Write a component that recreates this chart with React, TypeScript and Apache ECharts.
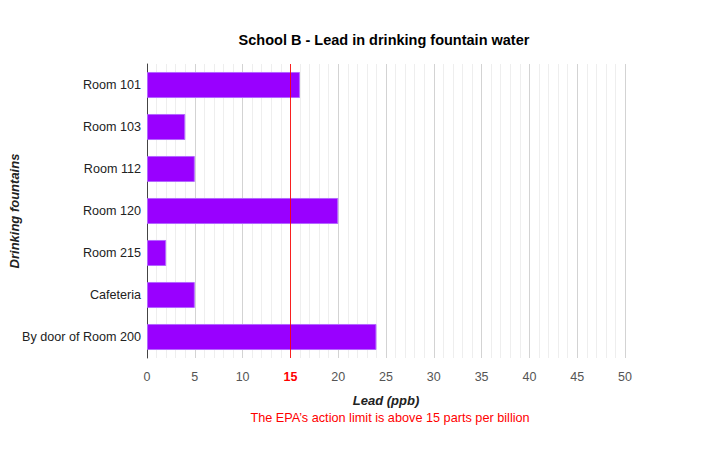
import React, { useEffect, useRef } from "react";
import * as echarts from "echarts";

const categories = ["Room 101", "Room 103", "Room 112", "Room 120", "Room 215", "Cafeteria", "By door of Room 200"];
const leadValues = [16, 4, 5, 20, 2, 5, 24];
const actionLimit = 15;
const xTicks = [0, 5, 10, 15, 20, 25, 30, 35, 40, 45, 50];

const FONT = "'Liberation Sans', Arial, sans-serif";

export default function App() {
  const ref = useRef<HTMLDivElement>(null);
  useEffect(() => {
    if (!ref.current) return;
    const chart = echarts.init(ref.current, null, { renderer: "svg" });
    chart.setOption({
      animation: false,
      backgroundColor: "#ffffff",
      textStyle: { fontFamily: FONT },
      title: {
        text: "School B - Lead in drinking fountain water",
        left: 379,
        top: 27,
        textAlign: "center",
        textStyle: { fontFamily: FONT, fontSize: 14.5, fontWeight: "bold", color: "#000" },
      },
      graphic: [
        {
          type: "text",
          x: 390,
          y: 411,
          style: {
            text: "The EPA\u2019s action limit is above 15 parts per billion",
            fill: "#ff0000",
            font: `12.7px ${FONT}`,
            textAlign: "center",
          },
        },
      ],
      grid: { left: 147, right: 89, top: 64, bottom: 92, containLabel: false, outerBoundsMode: "none" },
      xAxis: {
        type: "value",
        min: xTicks[0],
        max: xTicks[xTicks.length - 1],
        interval: 5,
        name: "Lead (ppb)",
        nameLocation: "middle",
        nameGap: 36,
        nameMoveOverlap: false,
        nameTextStyle: { fontFamily: FONT, fontSize: 13, fontWeight: "bold", fontStyle: "italic", color: "#222" },
        axisLine: { show: false },
        axisTick: { show: false },
        axisLabel: {
          margin: 12,
          fontFamily: FONT,
          fontSize: 12.5,
          color: "#555",
          formatter: (v: number) => (v === actionLimit ? `{red|${v}}` : `${v}`),
          rich: { red: { color: "#ff0000", fontWeight: "bold", fontSize: 12.5, fontFamily: FONT } },
        },
        splitLine: { show: true, lineStyle: { color: "#d3d3d3", width: 1 } },
        minorTick: { show: false, splitNumber: 5 },
        minorSplitLine: { show: true, lineStyle: { color: "#eeeeee", width: 1 } },
      },
      yAxis: {
        type: "category",
        data: categories,
        inverse: true,
        name: "Drinking fountains",
        nameLocation: "middle",
        nameGap: 126,
        nameMoveOverlap: false,
        nameRotate: 90,
        nameTextStyle: { fontFamily: FONT, fontSize: 13, fontWeight: "bold", fontStyle: "italic", color: "#222" },
        axisLine: { show: true, lineStyle: { color: "#444", width: 1 } },
        axisTick: { show: false },
        axisLabel: { fontFamily: FONT, fontSize: 12.6, color: "#222", margin: 6 },
        splitLine: { show: false },
      },
      series: [
        {
          type: "bar",
          data: leadValues,
          barCategoryGap: "38%",
          itemStyle: { color: "#9900ff", borderColor: "#b366ff", borderWidth: 1 },
          markLine: {
            symbol: ["none", "none"],
            silent: true,
            label: { show: false },
            itemStyle: { color: "#ff0000" },
            lineStyle: { color: "#ff0000", type: "solid", width: 1, opacity: 0.85 },
            data: [{ xAxis: actionLimit, lineStyle: { color: "#ff0000" }, itemStyle: { color: "#ff0000" } }],
          },
          z: 3,
        },
      ],
    });
    return () => chart.dispose();
  }, []);
  return <div ref={ref} style={{ width: 714, height: 450, position: "absolute", left: 0, top: 0 }} />;
}
